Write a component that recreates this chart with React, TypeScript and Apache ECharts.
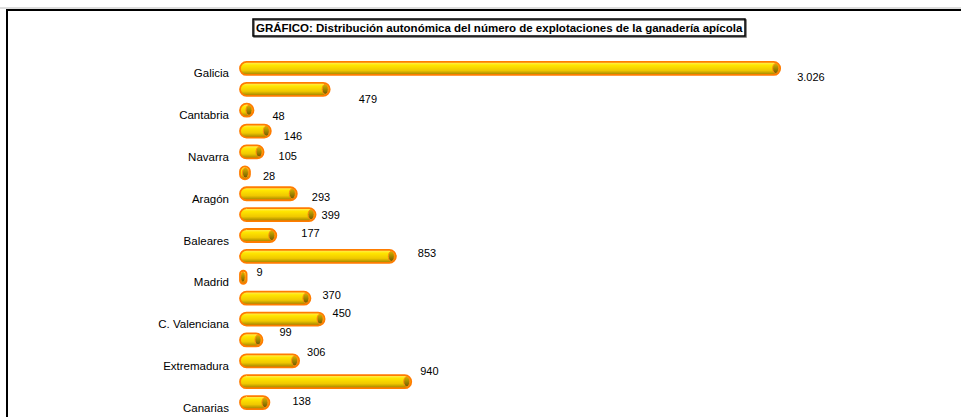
import React, { useEffect, useRef } from "react";
import * as echarts from "echarts";

const TITLE = "GRÁFICO: Distribución autonómica del número de explotaciones de la ganadería apícola";

const regions = [
  "Galicia", "Asturias", "Cantabria", "País Vasco", "Navarra", "La Rioja",
  "Aragón", "Cataluña", "Baleares", "Castilla y León", "Madrid",
  "Castilla-La Mancha", "C. Valenciana", "Murcia", "Extremadura", "Andalucía", "Canarias",
];
const explotaciones = [3026, 479, 48, 146, 105, 28, 293, 399, 177, 853, 9, 370, 450, 99, 306, 940, 138];

// label placement quirks of the original (pixel nudges from the bar end)
const labelDx = [17, 29, 19, 13, 15, 13, 15, 6, 25, 22, 10, 12, 8, 17, 8, 9, 23];
const labelDy = [9, 10, 6, 5, 4, 3, 3, 0, -3, -3, -5, -3, -6, -8, -9, -11, -2];

const fmt = (v: number) => v.toLocaleString("de-DE");
const FONT = "'Liberation Sans', Arial, sans-serif";

export default function App() {
  const ref = useRef<HTMLDivElement>(null);
  useEffect(() => {
    document.body.style.margin = "0";
    const chart = echarts.init(ref.current!, null, { renderer: "svg" });
    const barGrad = new echarts.graphic.LinearGradient(0, 0, 0, 1, [
      { offset: 0, color: "#fff06a" },
      { offset: 0.25, color: "#ffe600" },
      { offset: 0.65, color: "#f0c800" },
      { offset: 1, color: "#9a7d00" },
    ]);
    const capGrad = new echarts.graphic.LinearGradient(0, 0, 0, 1, [
      { offset: 0, color: "#d4b400" },
      { offset: 1, color: "#6f5a00" },
    ]);
    const H = 13;
    const CAP = 5;
    chart.setOption({
      animation: false,
      backgroundColor: "#ffffff",
      title: {
        text: TITLE,
        left: 253,
        top: 19,
        padding: [3, 3, 2, 3],
        borderColor: "#000",
        borderWidth: 1.5,
        shadowColor: "rgba(0,0,0,0.6)",
        shadowOffsetX: 1,
        shadowOffsetY: 1,
        textStyle: {
          fontFamily: "'Liberation Sans Narrow', 'Liberation Sans', Arial, sans-serif",
          fontSize: 11.5,
          fontWeight: "bold",
          color: "#000",
        },
      },
      graphic: [
        { type: "line", shape: { x1: 0, y1: 8, x2: 961, y2: 8 }, style: { stroke: "#bbbbbb", lineWidth: 1 } },
        { type: "line", shape: { x1: 7, y1: 10, x2: 961, y2: 10 }, style: { stroke: "#000", lineWidth: 2 } },
        { type: "line", shape: { x1: 7, y1: 9, x2: 7, y2: 417 }, style: { stroke: "#000", lineWidth: 2 } },
      ],
      grid: { left: 245, width: 619, top: 58, height: 355, containLabel: false },
      xAxis: { type: "value", min: 0, max: 3500, show: false },
      yAxis: {
        type: "category",
        data: regions,
        inverse: true,
        axisLine: { show: false },
        axisTick: { show: false },
        axisLabel: {
          interval: 1,
          margin: 16,
          verticalAlign: "top",
          lineHeight: 10,
          fontFamily: FONT,
          fontSize: 11.5,
          color: "#000",
        },
      },
      series: [
        {
          type: "custom",
          name: "Explotaciones",
          data: explotaciones.map((v, i) => [v, i]),
          renderItem: (params: any, api: any) => {
            const i = params.dataIndex;
            const v = api.value(0);
            const end = api.coord([v, api.value(1)]);
            const start = api.coord([0, api.value(1)]);
            const x0 = start[0] - CAP;
            const x1 = end[0];
            const w = Math.max(x1 - x0, 5);
            const rx = Math.min(3, w / 3);
            return {
              type: "group",
              children: [
                {
                  type: "rect",
                  shape: { x: x0, y: end[1] - H / 2, width: w, height: H, r: Math.min(H / 2, w / 2) },
                  style: { fill: barGrad, stroke: "#ff7c00", lineWidth: 1.8 },
                },
                {
                  type: "ellipse",
                  shape: { cx: x0 + w - rx - 1.5, cy: end[1], rx: rx, ry: H / 2 - 1.5 },
                  style: { fill: capGrad, stroke: "#ff8a10", lineWidth: 1 },
                },
                {
                  type: "text",
                  style: {
                    text: fmt(v),
                    x: x1 + labelDx[i],
                    y: end[1] + labelDy[i],
                    verticalAlign: "middle",
                    align: "left",
                    fontFamily: FONT,
                    fontSize: 11,
                    fill: "#000",
                  },
                },
              ],
            };
          },
        },
      ],
    });
    return () => chart.dispose();
  }, []);
  return <div ref={ref} style={{ position: "absolute", left: 0, top: 0, width: 961, height: 417 }} />;
}
